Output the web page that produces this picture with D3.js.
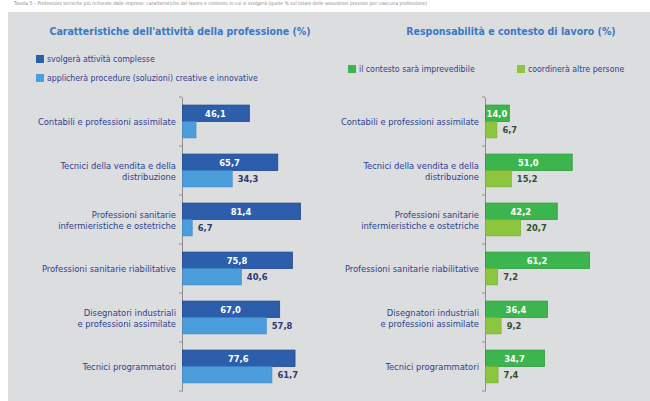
<!DOCTYPE html>
<html>
<head>
<meta charset="utf-8">
<script src="https://cdn.jsdelivr.net/npm/d3@7"></script>
<style>
  body { margin: 0; background: #fff; }
  svg { display: block; }
</style>
</head>
<body>
<div id="chart"></div>
<script>
'use strict';

// categorie (professioni)
var categories = [
	'Contabili e professioni assimilate',
	'Tecnici della vendita e della|distribuzione',
	'Professioni sanitarie|infermieristiche e ostetriche',
	'Professioni sanitarie riabilitative',
	'Disegnatori industriali|e professioni assimilate',
	'Tecnici programmatori'
];

// pannello sinistro
var leftTitle = 'Caratteristiche dell\'attività della professione (%)';
var leftSeriesNames = ['svolgerà attività complesse', 'applicherà procedure (soluzioni) creative e innovative'];
var complesse = [46.1, 65.7, 81.4, 75.8, 67.0, 77.6];
var creative = [9.3, 34.3, 6.7, 40.6, 57.8, 61.7];
var creativeShowLabel = [false, true, true, true, true, true];

// pannello destro
var rightTitle = 'Responsabilità e contesto di lavoro (%)';
var rightSeriesNames = ['il contesto sarà imprevedibile', 'coordinerà altre persone'];
var imprevedibile = [14.0, 51.0, 42.2, 61.2, 36.4, 34.7];
var coordinera = [6.7, 15.2, 20.7, 7.2, 9.2, 7.4];

var headerText = 'Tavola 5 – Professioni tecniche più richieste dalle imprese: caratteristiche del lavoro e contesto in cui si svolgerà (quote % sul totale delle assunzioni previste per ciascuna professione)';

var width = 650, height = 401;
var labelFont = '"Liberation Sans Narrow", "DejaVu Sans Condensed", "Roboto Condensed", sans-serif';

var svg = d3.select('#chart').append('svg')
	.attr('width', width)
	.attr('height', height);

// header text (small, grey)
svg.append('text')
	.attr('x', 14)
	.attr('y', 5)
	.style('font-family', labelFont)
	.style('font-size', '5px')
	.style('fill', '#8a8a8a')
	.text(headerText);

// grey panel
svg.append('rect')
	.attr('x', 8)
	.attr('y', 12)
	.attr('width', width - 8)
	.attr('height', height - 12)
	.style('fill', '#dcdddf');

var formatIt = function(v) {
	return v.toFixed(1).replace('.', ',');
};

var drawPanel = function(opt) {
	var g = svg.append('g');

	// title
	g.append('text')
		.attr('x', opt.titleX)
		.attr('y', 35)
		.attr('text-anchor', 'middle')
		.style('font-family', labelFont)
		.style('font-size', '10.5px')
		.style('font-weight', 'bold')
		.style('fill', '#3a78c4')
		.text(opt.title);

	// legend
	opt.legend.forEach(function(l) {
		g.append('rect')
			.attr('x', l.x)
			.attr('y', l.y - 7)
			.attr('width', 8)
			.attr('height', 8)
			.style('fill', l.color);
		g.append('text')
			.attr('x', l.x + 11)
			.attr('y', l.y)
			.style('font-family', labelFont)
			.style('font-size', '8.7px')
			.style('fill', '#2d3f8f')
			.text(l.name);
	});

	var y = d3.scaleBand()
		.domain(categories)
		.range([97, 391])
		.paddingInner(0.33)
		.paddingOuter(0.165);

	var x = d3.scaleLinear()
		.domain([0, 100])
		.range([opt.x0, opt.x0 + opt.pxPer100]);

	// axis
	var axis = d3.axisLeft(y).tickSize(0).tickFormat('');
	var axG = g.append('g')
		.attr('transform', 'translate(' + opt.x0 + ',0)')
		.call(axis);
	axG.select('.domain').attr('stroke', '#8e8e8e').attr('stroke-width', 1);

	// small ticks at band boundaries
	var bounds = [97].concat(categories.map(function(c) { return y(c) + y.bandwidth() + y.step() * 0.165; }));
	g.selectAll('.btick')
		.data(bounds)
		.enter()
		.append('line')
		.attr('x1', opt.x0 - 3)
		.attr('x2', opt.x0)
		.attr('y1', function(d) { return d; })
		.attr('y2', function(d) { return d; })
		.style('stroke', '#8e8e8e');

	var half = y.bandwidth() / 2;

	categories.forEach(function(c, i) {
		var top = y(c);

		// category label
		var lines = c.split('|');
		var cy = top + half;
		var lh = 11;
		var t = g.append('text')
			.attr('text-anchor', 'end')
			.style('font-family', labelFont)
			.style('font-size', '9.3px')
			.style('fill', '#2d3f8f');
		lines.forEach(function(ln, k) {
			t.append('tspan')
				.attr('x', opt.x0 - 6)
				.attr('y', cy + 3.5 + (k - (lines.length - 1) / 2) * lh)
				.text(ln);
		});

		// first bar
		var v1 = opt.s1[i];
		g.append('rect')
			.attr('x', x(0) + 0.5)
			.attr('y', top)
			.attr('width', x(v1) - x(0))
			.attr('height', half)
			.style('fill', opt.c1)
			.style('stroke', opt.c1Stroke)
			.style('stroke-width', 0.8);
		g.append('text')
			.attr('x', (x(0) + x(v1)) / 2)
			.attr('y', top + half / 2 + 3.5)
			.attr('text-anchor', 'middle')
			.style('font-family', labelFont)
			.style('font-size', '9.3px')
			.style('font-weight', 'bold')
			.style('fill', '#ffffff')
			.text(formatIt(v1));

		// second bar
		var v2 = opt.s2[i];
		g.append('rect')
			.attr('x', x(0) + 0.5)
			.attr('y', top + half)
			.attr('width', x(v2) - x(0))
			.attr('height', half)
			.style('fill', opt.c2)
			.style('stroke', opt.c2Stroke)
			.style('stroke-width', 0.6);
		if (opt.show2[i]) {
			g.append('text')
				.attr('x', x(v2) + 6)
				.attr('y', top + half * 1.5 + 3.5)
				.style('font-family', labelFont)
				.style('font-size', '9.3px')
				.style('font-weight', 'bold')
				.style('fill', opt.label2Color)
				.text(formatIt(v2));
		}
	});
};

drawPanel({
	title: leftTitle,
	titleX: 180,
	legend: [
		{ name: leftSeriesNames[0], color: '#2c5eab', x: 36, y: 62 },
		{ name: leftSeriesNames[1], color: '#4b9ddc', x: 36, y: 81 }
	],
	x0: 182,
	pxPer100: 145,
	s1: complesse,
	s2: creative,
	show2: creativeShowLabel,
	c1: '#2c5eab',
	c1Stroke: '#22498a',
	c2: '#4b9ddc',
	c2Stroke: '#3a86c4',
	label2Color: '#2b3a6e'
});

drawPanel({
	title: rightTitle,
	titleX: 511,
	legend: [
		{ name: rightSeriesNames[0], color: '#3db54e', x: 348, y: 72 },
		{ name: rightSeriesNames[1], color: '#8cc63f', x: 517, y: 72 }
	],
	x0: 485,
	pxPer100: 170,
	s1: imprevedibile,
	s2: coordinera,
	show2: [true, true, true, true, true, true],
	c1: '#3db54e',
	c1Stroke: '#2f9a3e',
	c2: '#8cc63f',
	c2Stroke: '#78ad30',
	label2Color: '#33502a'
});
</script>
</body>
</html>
